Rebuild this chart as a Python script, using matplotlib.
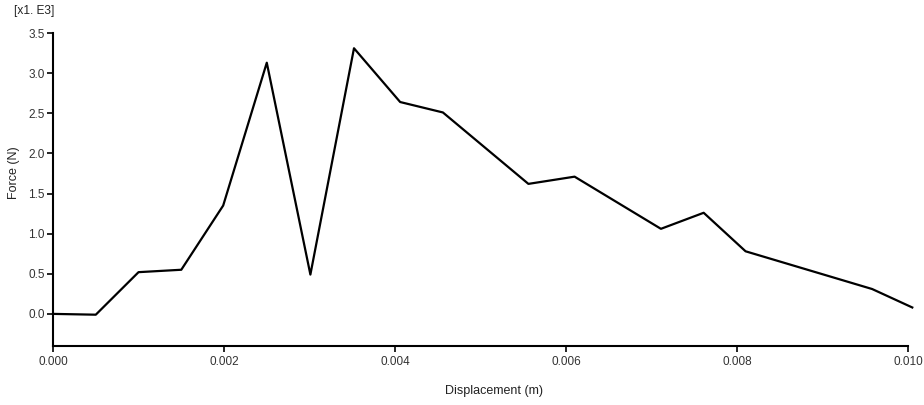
import matplotlib
matplotlib.use("Agg")
import matplotlib.pyplot as plt

# -------- data --------
displacement = [0.0, 0.0005, 0.0010, 0.0015, 0.00199, 0.0025, 0.00301, 0.00352,
                0.00406, 0.00456, 0.00556, 0.00610, 0.00711, 0.00761, 0.00810,
                0.00958, 0.01005]
force = [0.0, -0.01, 0.52, 0.55, 1.35, 3.13, 0.49, 3.31,
         2.64, 2.51, 1.62, 1.71, 1.06, 1.26, 0.78,
         0.31, 0.08]

x_ticks = [0.000, 0.002, 0.004, 0.006, 0.008, 0.010]
y_ticks = [0.0, 0.5, 1.0, 1.5, 2.0, 2.5, 3.0, 3.5]

plt.rcParams["font.family"] = ["Liberation Sans", "DejaVu Sans"]

fig = plt.figure(figsize=(9.24, 4.05), dpi=100)
ax = fig.add_axes([0.0574, 0.1457, 0.9253, 0.7728])

ax.plot(displacement, force, color="black", linewidth=1.6, clip_on=False)

ax.set_xlim(0, 0.010)
ax.set_ylim(-0.4, 3.5)
ax.set_xticks(x_ticks)
ax.set_xticklabels([f"{v:.3f}" for v in x_ticks])
ax.set_yticks(y_ticks)
ax.set_yticklabels([f"{v:.1f}" for v in y_ticks])

ax.spines["top"].set_visible(False)
ax.spines["right"].set_visible(False)
ax.spines["left"].set_linewidth(1.5)
ax.spines["bottom"].set_linewidth(1.5)
ax.tick_params(axis="both", direction="out", length=4, width=1.2,
               labelsize=8.5, labelcolor="#333333", pad=2)
ax.tick_params(axis="x", pad=3)

# axis labels placed by hand to match the reference
ax.set_xlabel("Displacement (m)", fontsize=9, color="#222222")
ax.xaxis.set_label_coords(0.516, -0.145)
ax.xaxis.label.set_va("center")
ax.set_ylabel("Force (N)", fontsize=9, color="#222222")
ax.yaxis.set_label_coords(-0.0456, 0.553)
ax.yaxis.label.set_va("center")

# scale marker at top left
fig.text(0.015, 0.972, "[x1. E3]", fontsize=8.6, color="#222222", va="center")

fig.savefig("out.png", dpi=100)
print("done")
